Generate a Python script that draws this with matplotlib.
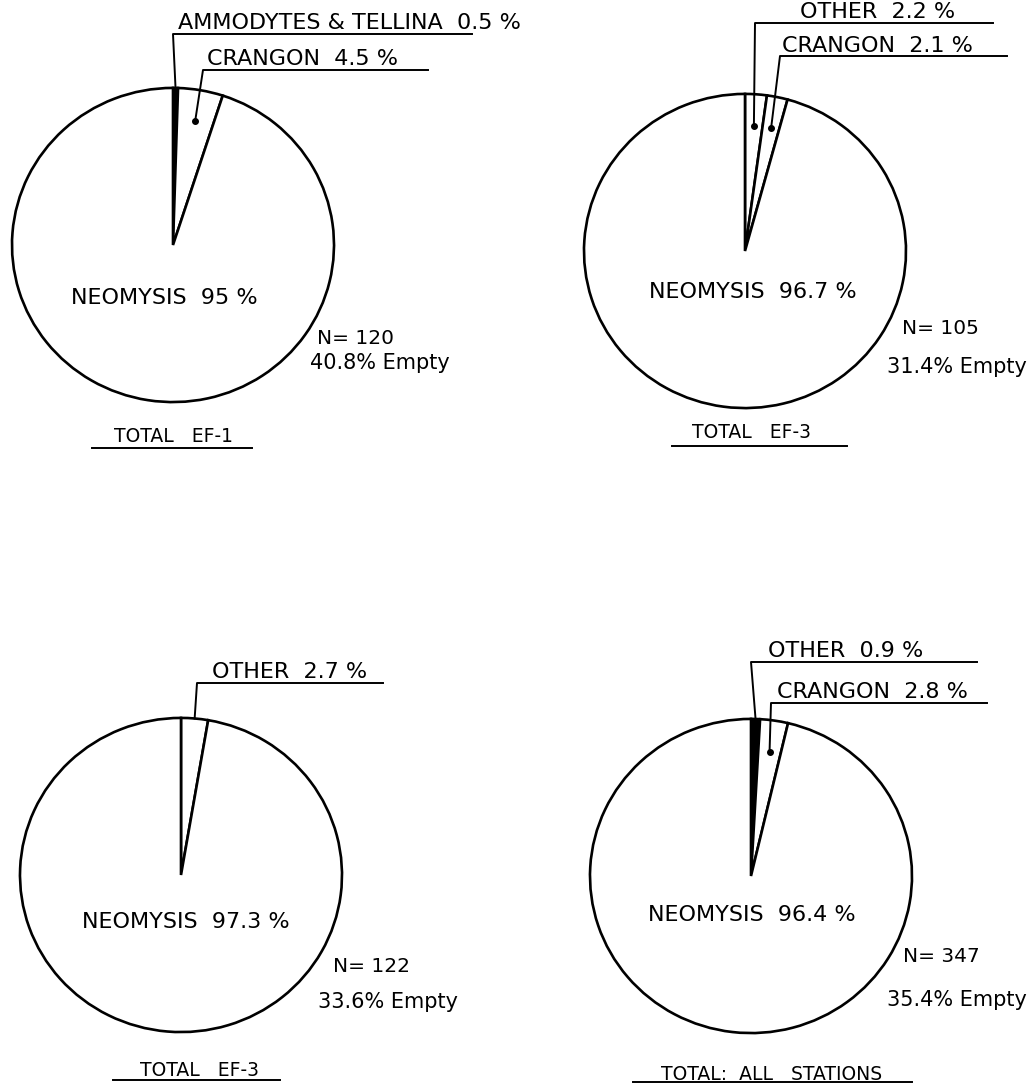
import numpy as np
import matplotlib.pyplot as plt

# ---- data ----
panel_titles = ["TOTAL   EF-1", "TOTAL   EF-3", "TOTAL   EF-3", "TOTAL:  ALL   STATIONS"]
prey_labels = [
    ["AMMODYTES & TELLINA", "CRANGON", "NEOMYSIS"],
    ["OTHER", "CRANGON", "NEOMYSIS"],
    ["OTHER", "NEOMYSIS"],
    ["OTHER", "CRANGON", "NEOMYSIS"],
]
prey_pct = [
    [0.5, 4.5, 95.0],
    [2.2, 2.1, 96.7],
    [2.7, 97.3],
    [0.9, 2.8, 96.4],
]
n_fish = [120, 105, 122, 347]
pct_empty = [40.8, 31.4, 33.6, 35.4]

# ---- styling / layout (pixel coords, origin top-left) ----
W, H = 1032, 1088
K = 1.025  # the scan is a bit wider than tall

filled = [[True, False, False], [False, False, False], [False, False], [True, False, False]]
dotted = [[False, True], [True, True], [False], [False, True]]
centers = [(173, 245, 161), (745, 251, 161), (181, 875, 161), (751, 876, 161)]
# per small slice: text x, text y, underline y, underline x0, underline x1
slice_layout = [
    [(178, 23, 34, 173, 472), (207, 59, 70, 203, 428)],
    [(800, 12, 23, 755, 993), (782, 46, 56, 780, 1007)],
    [(212, 672, 683, 197, 383)],
    [(768, 651, 662, 751, 977), (777, 692, 703, 771, 987)],
]
main_label_pos = [(164, 298), (753, 292), (186, 922), (752, 915)]
n_label_pos = [(317, 338), (902, 328), (333, 966), (903, 957)]
empty_label_pos = [(310, 363), (887, 367), (318, 1002), (887, 1000)]
title_pos = [(174, 437, 448, 92, 252), (752, 433, 446, 672, 847),
             (200, 1070, 1080, 113, 280), (772, 1074, 1082, 633, 912)]


def yy(py):
    return (H - py) * K


fig = plt.figure(figsize=(W / 100, H / 100), dpi=100)
ax = fig.add_axes([0, 0, 1, 1])

for i in range(4):
    cx, cy, r = centers[i]
    vals = prey_pct[i]
    cols = ["black" if f else "white" for f in filled[i]]
    ax.pie(vals, radius=r, center=(cx, yy(cy)), startangle=90, counterclock=False,
           colors=cols, wedgeprops=dict(edgecolor="black", linewidth=1.9))

    # leader lines + labels for the small slices
    cum = 0.0
    for j, v in enumerate(vals[:-1]):
        mid = np.deg2rad(90 - 3.6 * (cum + v / 2))
        cum += v
        f = 0.8 if dotted[i][j] else 1.0
        axp = cx + f * r * np.cos(mid)
        ayp = yy(cy) + f * r * np.sin(mid)
        if dotted[i][j]:
            ax.plot(axp, ayp, "o", color="black", ms=4)
        tx, ty, ly, lx0, lx1 = slice_layout[i][j]
        ax.plot([axp, lx0, lx1], [ayp, yy(ly), yy(ly)], color="black", lw=1.4)
        ax.text(tx, yy(ty), f"{prey_labels[i][j]}  {v:g} %", fontsize=16,
                ha="left", va="center")

    mx, my = main_label_pos[i]
    ax.text(mx, yy(my), f"{prey_labels[i][-1]}  {vals[-1]:g} %", fontsize=16,
            ha="center", va="center")
    nx, ny = n_label_pos[i]
    ax.text(nx, yy(ny), f"N= {n_fish[i]}", fontsize=14.5, ha="left", va="center")
    ex, ey = empty_label_pos[i]
    ax.text(ex, yy(ey), f"{pct_empty[i]:g}% Empty", fontsize=15, ha="left", va="center")

    tx, ty, ly, lx0, lx1 = title_pos[i]
    ax.text(tx, yy(ty), panel_titles[i], fontsize=13.5, ha="center", va="center")
    ax.plot([lx0, lx1], [yy(ly), yy(ly)], color="black", lw=1.4)

ax.set_xlim(0, W)
ax.set_ylim(0, H * K)
ax.set_aspect("auto")
ax.axis("off")

fig.savefig("out.png", dpi=100, facecolor="white")
